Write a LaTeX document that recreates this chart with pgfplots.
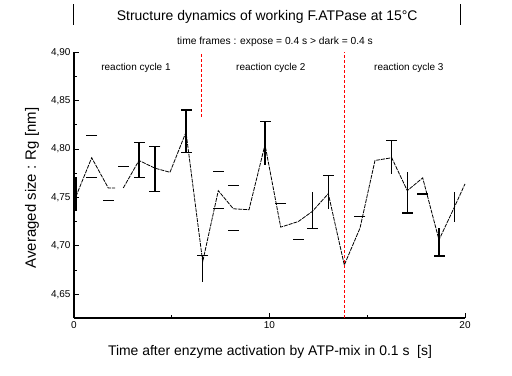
\documentclass[border=0pt]{standalone}
\usepackage{fontspec}
\setmainfont{Liberation Sans}
\usepackage{pgfplots}
\usepackage{pgfplotstable}
\pgfplotsset{compat=1.18}
\pgfplotstableread{
x y
0.100 4.7511
0.905 4.7910
1.754 4.7598
2.100 4.7598
}\lineA
\pgfplotstableread{
x y
2.522 4.7598
3.325 4.7882
4.143 4.7802
4.910 4.7760
5.729 4.8175
6.583 4.6836
7.381 4.7570
8.148 4.7383
8.951 4.7373
9.770 4.8045
10.573 4.7193
11.473 4.7251
12.189 4.7355
13.008 4.7539
13.826 4.6802
14.629 4.7183
15.396 4.7882
16.251 4.7910
17.049 4.7570
17.836 4.7702
18.670 4.7061
19.473 4.7407
20.000 4.7640
}\lineB
\pgfplotstableread{
x y e
0.100 4.75355 0.01715
3.325 4.78835 0.01815
4.143 4.77965 0.02335
5.729 4.81830 0.02210
6.583 4.67630 0.01350
9.770 4.80615 0.02215
12.189 4.73660 0.01910
13.008 4.75560 0.01730
16.251 4.79165 0.01725
17.049 4.75515 0.02125
18.670 4.70390 0.01440
19.473 4.74010 0.01560
}\bars
\pgfplotstableread{
x y
0.905 4.8144
0.905 4.7702
1.754 4.7466
2.522 4.7816
3.325 4.8065
3.325 4.7702
4.143 4.8030
4.143 4.7563
5.729 4.8404
5.729 4.7962
6.583 4.6898
7.381 4.7771
7.381 4.7383
8.148 4.7622
8.148 4.7155
9.770 4.8283
10.573 4.7435
11.473 4.7061
12.189 4.7175
13.008 4.7729
14.629 4.7303
16.251 4.8089
17.049 4.7339
17.836 4.7536
18.670 4.6895
}\caps
\begin{document}
\begin{tikzpicture}
\useasboundingbox (-74bp,-58bp) rectangle (438bp,318bp);
\begin{axis}[
  at={(0,0)}, anchor=south west,
  scale only axis, width=391bp, height=265.7bp,
  xmin=0, xmax=20, ymin=4.6254, ymax=4.90,
  axis x line*=bottom, axis y line*=left,
  axis line style={line width=1.6bp, black},
  xtick={0,10,20}, ytick={4.65,4.70,4.75,4.80,4.85,4.90},
  minor x tick num=1, minor y tick num=1,
  tick align=inside,
  major tick length=5bp, minor tick length=3.5bp,
  every tick/.style={line width=1bp, black},
  tick label style={font=\fontsize{10}{12}\selectfont},
  /pgf/number format/assume math mode=true,
  yticklabel style={/pgf/number format/.cd, fixed, fixed zerofill, precision=2, use comma},
  xticklabel style={/pgf/number format/.cd, fixed},
  clip=false,
]
\addplot[black, line width=0.8bp, dash pattern=on 4bp off 1bp] table[x=x,y=y] {\lineA};
\addplot[black, line width=0.8bp, dash pattern=on 4bp off 1bp] table[x=x,y=y] {\lineB};
\addplot[draw=none, no markers, error bars/.cd, y dir=both, y explicit, error mark=none,
  error bar style={draw=black, solid, line width=1.1bp}] table[x=x, y=y, y error=e] {\bars};
\addplot[only marks, mark=-, mark size=5.5bp, mark options={black, solid, line width=1.1bp}] table[x=x,y=y] {\caps};
\addplot[red, line width=0.9bp, dash pattern=on 3bp off 2bp] coordinates {(6.5,4.8335) (6.5,4.90)};
\addplot[red, line width=0.9bp, dash pattern=on 3bp off 2bp] coordinates {(13.84,4.6254) (13.84,4.90)};
\end{axis}
\draw[line width=1bp] (-0.7bp,293bp) -- (-0.7bp,314bp);
\draw[line width=1bp] (386bp,293bp) -- (386bp,314bp);
\node[anchor=base, inner sep=0pt, font=\fontsize{14}{16}\selectfont] at (193.2bp,297.3bp) {Structure dynamics of working F.ATPase at 15°C};
\node[anchor=base, inner sep=0pt, font=\fontsize{10.3}{12}\selectfont] at (201bp,273.7bp) {time frames : expose = 0.4 s > dark = 0.4 s};
\node[anchor=base, inner sep=0pt, font=\fontsize{10}{12}\selectfont] at (62bp,247bp) {reaction cycle 1};
\node[anchor=base, inner sep=0pt, font=\fontsize{10}{12}\selectfont] at (196.8bp,247bp) {reaction cycle 2};
\node[anchor=base, inner sep=0pt, font=\fontsize{10}{12}\selectfont] at (334.8bp,247bp) {reaction cycle 3};
\node[anchor=base, inner sep=0pt, font=\fontsize{14}{16}\selectfont] at (196bp,-37bp) {Time after enzyme activation by ATP-mix in 0.1 s\ \ [s]};
\node[rotate=90, inner sep=0pt, font=\fontsize{15}{17}\selectfont] at (-42bp,130bp) {Averaged size : Rg [nm]};
\end{tikzpicture}
\end{document}
